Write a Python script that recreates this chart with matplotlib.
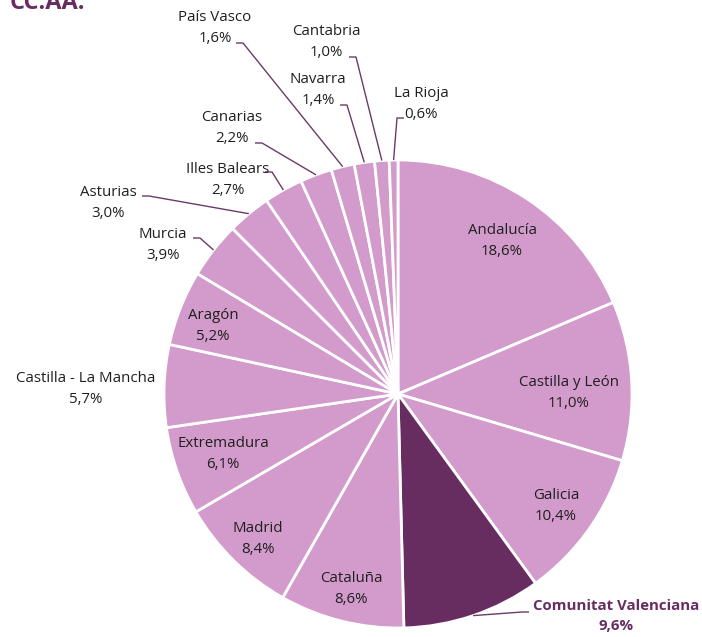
import matplotlib
matplotlib.use("Agg")
import matplotlib.pyplot as plt
import numpy as np

# ---- data ----
regions = ["Andalucía", "Castilla y León", "Galicia", "Comunitat Valenciana",
           "Cataluña", "Madrid", "Extremadura", "Castilla - La Mancha", "Aragón",
           "Murcia", "Asturias", "Illes Balears", "Canarias", "País Vasco",
           "Navarra", "Cantabria", "La Rioja"]
shares = [18.6, 11.0, 10.4, 9.6, 8.6, 8.4, 6.1, 5.7, 5.2,
          3.9, 3.0, 2.7, 2.2, 1.6, 1.4, 1.0, 0.6]
highlight = "Comunitat Valenciana"
title = "CC.AA."

# ---- layout (pixel coordinates, origin top-left) ----
W, H = 702, 637
cx, cy, R = 398, 394, 234
# label centre positions
label_pos = {
    "Andalucía": (502, 241), "Castilla y León": (569, 393), "Galicia": (556, 506),
    "Comunitat Valenciana": (616, 616), "Cataluña": (351, 589), "Madrid": (258, 539),
    "Extremadura": (223, 454), "Castilla - La Mancha": (86, 389), "Aragón": (213, 326),
    "Murcia": (163, 245), "Asturias": (108, 203), "Illes Balears": (228, 180),
    "Canarias": (232, 128), "País Vasco": (215, 28), "Navarra": (318, 90),
    "Cantabria": (326, 42), "La Rioja": (421, 104),
}
# leader stub start (x, y, direction)
leaders = {
    "Comunitat Valenciana": (529, 612, -1), "Murcia": (193, 238, 1),
    "Asturias": (142, 196, 1), "Illes Balears": (265, 172, 1),
    "Canarias": (255, 143, 1), "País Vasco": (236, 43, 1),
    "Navarra": (340, 105, 1), "Cantabria": (349, 57, 1), "La Rioja": (404, 118, -1),
}

light = "#D39BCB"
dark = "#682D60"
text_col = "#1F1F1F"
line_col = "#6B3A66"
font = "Open Sans"

fig = plt.figure(figsize=(W / 100, H / 100), dpi=100)
ax = fig.add_axes([0, 0, 1, 1])
colors = [dark if r == highlight else light for r in regions]
ax.pie(shares, colors=colors, center=(cx, cy), radius=R, startangle=-90,
       counterclock=True, wedgeprops=dict(edgecolor="white", linewidth=2))
ax.set_xlim(0, W)
ax.set_ylim(H, 0)
ax.set_aspect("equal")
ax.axis("off")

cum = np.cumsum([0] + shares[:-1])
for reg, s, c0 in zip(regions, shares, cum):
    x, y = label_pos[reg]
    txt = f"{reg}\n{s:.1f}%".replace(".", ",")
    bold = reg == highlight
    ax.text(x, y, txt, ha="center", va="center", fontsize=10.8, family=font,
            color=dark if bold else text_col, fontweight="bold" if bold else "normal",
            linespacing=1.5)
    if reg in leaders:
        sx, sy, d = leaders[reg]
        th = np.deg2rad(-90 + 360 * (c0 + s / 2) / 100)
        ex, ey = cx + R * np.cos(th), cy + R * np.sin(th)
        ax.plot([sx, sx + 7 * d, ex], [sy, sy, ey], color=line_col, lw=1,
                solid_capstyle="butt")

fig.text(10 / W, 1 - 9 / H, title, ha="left", va="baseline", fontsize=17,
         fontweight="bold", color=dark, family=font)

fig.savefig("out.png", dpi=100)
